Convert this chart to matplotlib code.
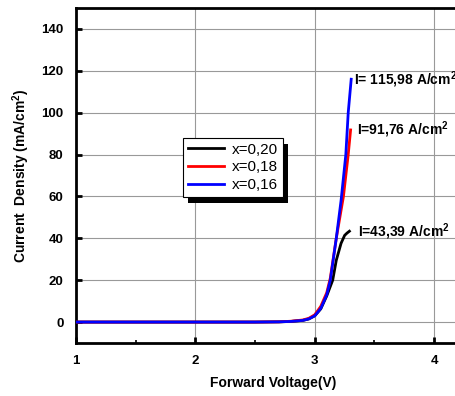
# Courbes J-V en direct pour trois compositions x
import matplotlib.pyplot as plt
from matplotlib.patches import Rectangle
from matplotlib.ticker import MultipleLocator

plt.rcParams['font.family'] = ['Liberation Sans', 'DejaVu Sans']
plt.rcParams['mathtext.fontset'] = 'custom'
plt.rcParams['mathtext.rm'] = 'Liberation Sans'
plt.rcParams['mathtext.bf'] = 'Liberation Sans:bold'

# Données (V en volts, J en mA/cm2)
v_020 = [1.0, 2.0, 2.5, 2.7, 2.8, 2.9, 2.95, 3.0, 3.05, 3.1, 3.15, 3.18, 3.22, 3.25, 3.27, 3.29]
j_020 = [0, 0, 0, 0.1, 0.3, 0.8, 1.5, 3.0, 6.3, 12.5, 20, 29.5, 37.6, 41.4, 42.5, 43.39]

v_018 = [1.0, 2.0, 2.5, 2.7, 2.8, 2.9, 2.95, 3.0, 3.05, 3.1, 3.13, 3.18, 3.24, 3.28, 3.30]
j_018 = [0, 0, 0, 0.1, 0.4, 1.0, 1.8, 3.5, 7.5, 14, 21, 40, 60, 80, 91.76]

v_016 = [1.0, 2.0, 2.5, 2.7, 2.8, 2.9, 2.95, 3.0, 3.05, 3.1, 3.13, 3.18, 3.22, 3.26, 3.28, 3.305]
j_016 = [0, 0, 0, 0.1, 0.3, 0.8, 1.5, 3.0, 6.5, 13, 20, 40, 58, 80, 100, 115.98]

labels = ['x=0,20', 'x=0,18', 'x=0,16']
colors = ['black', 'red', 'blue']
end_labels = ['I=43,39 A/cm$^{\\mathbf{2}}$', 'I=91,76 A/cm$^{\\mathbf{2}}$',
              'I= 115,98 A/cm$^{\\mathbf{2}}$']

fig = plt.figure(figsize=(4.56, 3.96), dpi=100)
ax = fig.add_axes([76/456, 53/396, 394/456, 335/396])

series = [(v_020, j_020), (v_018, j_018), (v_016, j_016)]
for (v, j), lab, c in zip(series, labels, colors):
    ax.plot(v, j, color=c, lw=2, label=lab, zorder=3)

# étiquettes de fin de courbe
offsets = [0.075, 0.05, 0.02]
for (v, j), txt, dx in zip(series, end_labels, offsets):
    ax.text(v[-1] + dx, j[-1], txt, fontsize=10, fontweight='bold', va='center', ha='left')

ax.set_xlim(1, 4.3)
ax.set_ylim(-10, 150)
ax.xaxis.set_major_locator(MultipleLocator(1))
ax.xaxis.set_minor_locator(MultipleLocator(0.5))
ax.set_yticks(range(0, 141, 20))
ax.grid(True, color='#999999', lw=0.8)
ax.set_axisbelow(True)

for s in ['left', 'bottom', 'top']:
    ax.spines[s].set_linewidth(2)
ax.spines['right'].set_visible(False)

ax.tick_params(which='major', direction='in', length=4, width=2, pad=9, labelsize=9.5)
ax.tick_params(which='minor', direction='in', length=2, width=1.2)
for t in ax.get_xticklabels() + ax.get_yticklabels():
    t.set_fontweight('bold')

ax.set_xlabel('Forward Voltage(V)', fontsize=10, fontweight='bold', labelpad=6)
ax.set_ylabel('Current  Density (mA/cm$^{\\mathbf{2}}$)', fontsize=10, fontweight='bold', labelpad=7)

leg = ax.legend(loc='upper left', bbox_to_anchor=(0.2716, 0.612), borderaxespad=0,
                fontsize=11, handlelength=2.4, labelspacing=0.25, fancybox=False,
                framealpha=1, edgecolor='black', borderpad=0.3, handletextpad=0.5)
leg.get_frame().set_linewidth(0.8)
leg.set_zorder(6)

# ombre noire décalée sous la légende
fig.canvas.draw()
bb = leg.get_frame().get_window_extent()
ax.add_patch(Rectangle((bb.x0 + 5, bb.y0 - 6), bb.width, bb.height,
                       transform=None, facecolor='black', edgecolor='none', zorder=5))

fig.savefig('out.png', dpi=100)
